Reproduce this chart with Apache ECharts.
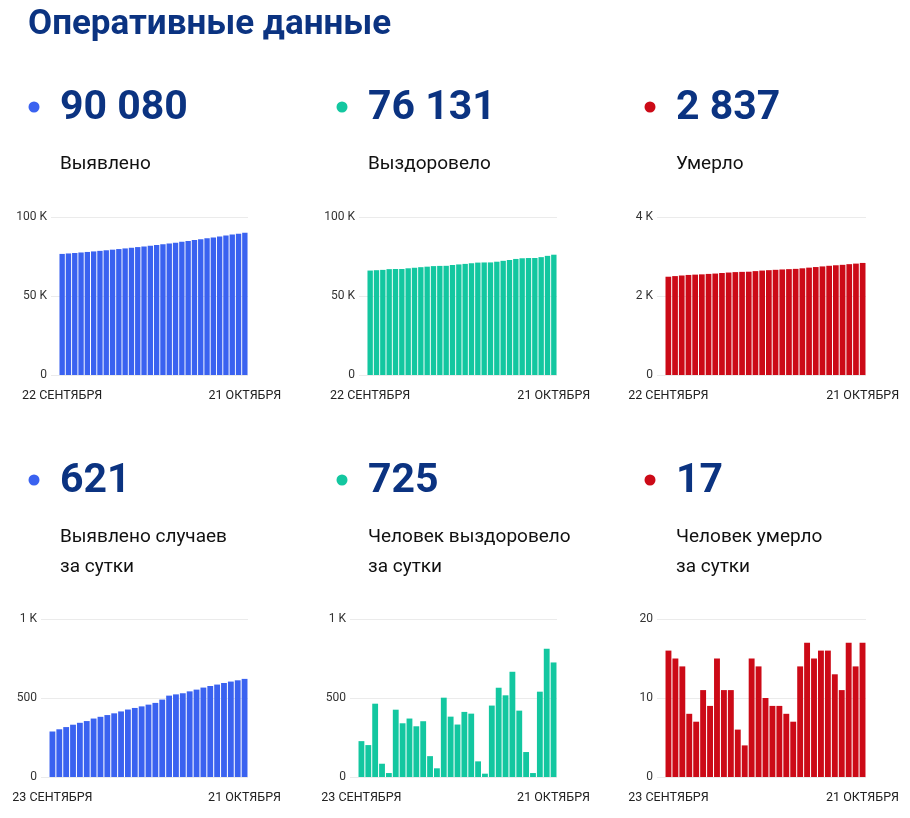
<!DOCTYPE html>
<html>
<head>
<meta charset="utf-8">
<title>Оперативные данные</title>
<script src="https://cdn.jsdelivr.net/npm/echarts@6/dist/echarts.min.js"></script>
<style>
  html, body { margin: 0; padding: 0; background: #fff; }
  #main { width: 910px; height: 818px; }
</style>
</head>
<body>
<div id="main"></div>
<script>
// даты
var daysTotal = ['22 СЕНТЯБРЯ', '23 СЕНТЯБРЯ', '24 СЕНТЯБРЯ', '25 СЕНТЯБРЯ', '26 СЕНТЯБРЯ', '27 СЕНТЯБРЯ',
    '28 СЕНТЯБРЯ', '29 СЕНТЯБРЯ', '30 СЕНТЯБРЯ', '1 ОКТЯБРЯ', '2 ОКТЯБРЯ', '3 ОКТЯБРЯ', '4 ОКТЯБРЯ',
    '5 ОКТЯБРЯ', '6 ОКТЯБРЯ', '7 ОКТЯБРЯ', '8 ОКТЯБРЯ', '9 ОКТЯБРЯ', '10 ОКТЯБРЯ', '11 ОКТЯБРЯ',
    '12 ОКТЯБРЯ', '13 ОКТЯБРЯ', '14 ОКТЯБРЯ', '15 ОКТЯБРЯ', '16 ОКТЯБРЯ', '17 ОКТЯБРЯ', '18 ОКТЯБРЯ',
    '19 ОКТЯБРЯ', '20 ОКТЯБРЯ', '21 ОКТЯБРЯ']
var daysDaily = ['23 СЕНТЯБРЯ', '24 СЕНТЯБРЯ', '25 СЕНТЯБРЯ', '26 СЕНТЯБРЯ', '27 СЕНТЯБРЯ',
    '28 СЕНТЯБРЯ', '29 СЕНТЯБРЯ', '30 СЕНТЯБРЯ', '1 ОКТЯБРЯ', '2 ОКТЯБРЯ', '3 ОКТЯБРЯ', '4 ОКТЯБРЯ',
    '5 ОКТЯБРЯ', '6 ОКТЯБРЯ', '7 ОКТЯБРЯ', '8 ОКТЯБРЯ', '9 ОКТЯБРЯ', '10 ОКТЯБРЯ', '11 ОКТЯБРЯ',
    '12 ОКТЯБРЯ', '13 ОКТЯБРЯ', '14 ОКТЯБРЯ', '15 ОКТЯБРЯ', '16 ОКТЯБРЯ', '17 ОКТЯБРЯ', '18 ОКТЯБРЯ',
    '19 ОКТЯБРЯ', '20 ОКТЯБРЯ', '21 ОКТЯБРЯ']

// всего
var casesTotal = [76635, 76923, 77225, 77541, 77872, 78215, 78569, 78939, 79320, 79712, 80115, 80530,
    80957, 81394, 81841, 82299, 82768, 83258, 83773, 84296, 84826, 85368, 85921, 86487, 87063, 87648,
    88243, 88847, 89459, 90080]
var recoveredTotal = [66104, 66331, 66533, 66997, 67081, 67106, 67532, 67872, 68242, 68563, 68916, 69048,
    69103, 69605, 69987, 70319, 70731, 71132, 71231, 71252, 71704, 72269, 72786, 73452, 73872, 74030,
    74055, 74595, 75406, 76131]
var deathsTotal = [2488, 2504, 2519, 2533, 2541, 2548, 2559, 2568, 2583, 2594, 2605, 2611, 2615, 2630,
    2644, 2654, 2663, 2672, 2680, 2687, 2701, 2718, 2733, 2749, 2765, 2778, 2789, 2806, 2820, 2837]

// за сутки
var casesDaily = [288, 302, 316, 331, 343, 354, 370, 381, 392, 403, 415, 427, 437, 447, 458, 469, 490,
    515, 523, 530, 542, 553, 566, 576, 585, 595, 604, 612, 621]
var recoveredDaily = [227, 202, 464, 84, 25, 426, 340, 370, 321, 353, 132, 55, 502, 382, 332, 412, 401,
    99, 21, 452, 565, 517, 666, 420, 158, 25, 540, 811, 725]
var deathsDaily = [16, 15, 14, 8, 7, 11, 9, 15, 11, 11, 6, 4, 15, 14, 10, 9, 9, 8, 7, 14, 17, 15, 16, 16,
    13, 11, 17, 14, 17]

var bigNumbers = ['90 080', '76 131', '2 837', '621', '725', '17']
var captions = [['Выявлено'], ['Выздоровело'], ['Умерло'],
    ['Выявлено случаев', 'за сутки'], ['Человек выздоровело', 'за сутки'], ['Человек умерло', 'за сутки']]

var BLUE = '#3a62f0', GREEN = '#13c7a0', RED = '#cc0a17', NAVY = '#0b3381'
var FONT = 'Roboto, "Noto Sans", sans-serif'

var myChart = echarts.init(document.getElementById('main'))

// 6 графиков: данные, ось, положение
var charts = [
    { data: casesTotal, cats: daysTotal, color: BLUE, max: 100000, step: 50000, left: 59, right: 248, top: 217, col: 0, row: 0 },
    { data: recoveredTotal, cats: daysTotal, color: GREEN, max: 100000, step: 50000, left: 367, right: 557, top: 217, col: 1, row: 0 },
    { data: deathsTotal, cats: daysTotal, color: RED, max: 4000, step: 2000, left: 665, right: 866, top: 217, col: 2, row: 0 },
    { data: casesDaily, cats: daysDaily, color: BLUE, max: 1000, step: 500, left: 49, right: 248, top: 619, col: 0, row: 1 },
    { data: recoveredDaily, cats: daysDaily, color: GREEN, max: 1000, step: 500, left: 358, right: 557, top: 619, col: 1, row: 1 },
    { data: deathsDaily, cats: daysDaily, color: RED, max: 20, step: 10, left: 665, right: 866, top: 619, col: 2, row: 1 }
]

function kFormat(v) {
    return v >= 1000 ? (v / 1000) + ' K' : String(v)
}

function txt(x, y, text, font, fill) {
    return {
        type: 'text', x: x, y: y,
        style: { text: text, font: font, fill: fill, align: 'left', verticalAlign: 'middle',
            textAlign: 'left', textVerticalAlign: 'middle' }
    }
}

var grid = [], xAxis = [], yAxis = [], series = []
var graphic = [txt(28, 25, 'Оперативные данные', 'bold 35px ' + FONT, NAVY)]

charts.forEach(function (c, i) {
    var h = 158
    // фон с линиями сетки (чуть шире столбиков)
    grid.push({ left: c.left - 8, width: c.right - c.left + 8, top: c.top, height: h })
    xAxis.push({ type: 'value', gridIndex: 2 * i, min: 0, max: 1, show: false })
    yAxis.push({
        type: 'value', gridIndex: 2 * i, min: 0, max: c.max, interval: c.step,
        axisLine: { show: false }, axisTick: { show: false }, axisLabel: { show: false },
        splitLine: { lineStyle: { color: '#ebebeb', width: 1 } }
    })
    // столбики
    grid.push({ left: c.left, width: c.right - c.left, top: c.top, height: h })
    xAxis.push({
        type: 'category', gridIndex: 2 * i + 1, data: c.cats,
        axisLine: { show: false }, axisTick: { show: false },
        axisLabel: {
            margin: 14, color: '#222', fontSize: 12.5, fontFamily: FONT,
            interval: function (idx) { return idx === 0 || idx === c.cats.length - 1 }
        }
    })
    yAxis.push({
        type: 'value', gridIndex: 2 * i + 1, min: 0, max: c.max, interval: c.step,
        axisLine: { show: false }, axisTick: { show: false }, splitLine: { show: false },
        axisLabel: { margin: 12, color: '#333', fontSize: 12, fontFamily: FONT, formatter: kFormat }
    })
    series.push({
        type: 'bar', xAxisIndex: 2 * i + 1, yAxisIndex: 2 * i + 1, data: c.data,
        barCategoryGap: '15%', itemStyle: { color: c.color }, silent: true
    })

    // подписи
    var x0 = 60 + c.col * 308
    var yNum = c.row === 0 ? 109 : 482
    var yCap = c.row === 0 ? 164 : 537
    graphic.push({ type: 'circle', shape: { cx: x0 - 26, cy: c.row === 0 ? 107 : 480, r: 5.5 }, style: { fill: c.color } })
    graphic.push(txt(x0, yNum, bigNumbers[i], 'bold 41px ' + FONT, NAVY))
    captions[i].forEach(function (line, k) {
        graphic.push(txt(x0, yCap + k * 30, line, '19px ' + FONT, '#111'))
    })
})

var option = {
    backgroundColor: '#fff',
    animation: false,
    grid: grid,
    xAxis: xAxis,
    yAxis: yAxis,
    series: series,
    graphic: graphic
}

myChart.setOption(option)
</script>
</body>
</html>
